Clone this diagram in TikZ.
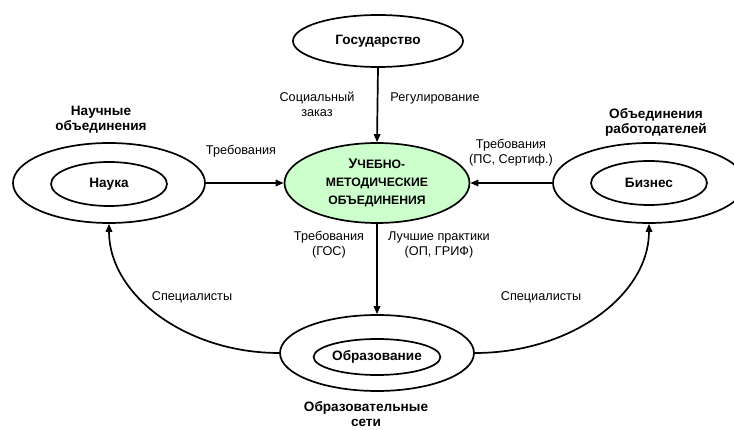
\documentclass[tikz,border=0pt]{standalone}
\usepackage{fontspec}
\setmainfont{Liberation Sans}
\usetikzlibrary{shapes.geometric,arrows.meta}
\definecolor{umefill}{HTML}{CCFFCC}
\tikzset{
  ell/.style={ellipse, draw=black, line width=1.7pt, inner sep=0pt},
  lbl/.style={font=\fontsize{12.7}{15}\selectfont, inner sep=0pt, align=center},
  blbl/.style={font=\bfseries\fontsize{13.6}{15}\selectfont, inner sep=0pt, align=center},
  btxt/.style={font=\bfseries\fontsize{13.6}{15}\selectfont},
  arr/.style={line width=1.7pt, -{Triangle[length=8pt,width=6.5pt]}},
}
\begin{document}
\begin{tikzpicture}[x=1pt,y=-1pt]
\useasboundingbox (0,0) rectangle (734,430);
% nodes
\node[ell, btxt, minimum width=170, minimum height=52] (gos) at (378,41) {Государство};
\node[ell, fill=umefill, minimum width=185, minimum height=80, align=center, font=\bfseries\fontsize{12.2}{18}\selectfont] (ume) at (377,183)
  {{\fontsize{14}{18}\selectfont У}ЧЕБНО-\\МЕТОДИЧЕСКИЕ\\ОБЪЕДИНЕНИЯ};
\node[ell, minimum width=192, minimum height=80] (nauka) at (109,183) {};
\node[ell, btxt, minimum width=116, minimum height=44] (naukain) at (109,184) {Наука};
\node[ell, minimum width=192, minimum height=80] (biz) at (649,183) {};
\node[ell, btxt, minimum width=116, minimum height=44] (bizin) at (649,183) {Бизнес};
\node[ell, minimum width=194, minimum height=76] (obr) at (377,353) {};
\node[ell, btxt, minimum width=116, minimum height=36] (obrin) at (377,357) {Образование};
% labels
\node[lbl] (soc) at (317,104) {Социальный\\заказ};
\node[lbl] (reg) at (435,98) {Регулирование};
\node[blbl] (nauch) at (101,119.5) {Научные\\объединения};
\node[lbl] (treb1) at (241,151) {Требования};
\node[lbl] (treb2) at (511,152.5) {Требования\\(ПС, Сертиф.)};
\node[blbl] (rabot) at (656,122.5) {Объединения\\работодателей};
\node[lbl] (tgos) at (329,244.5) {Требования\\(ГОС)};
\node[lbl] (best) at (439,244.5) {Лучшие практики\\(ОП, ГРИФ)};
\node[lbl] (spec1) at (192,297) {Специалисты};
\node[lbl] (spec2) at (541,297) {Специалисты};
\node[blbl] (obrset) at (366,414) {Образовательные\\сети};
% connectors
\draw[arr] (gos.south) -- (ume.north);
\draw[arr] (nauka.east) -- (ume.west);
\draw[arr] (biz.west) -- (ume.east);
\draw[arr] (ume.south) -- (obr.north);
\draw[arr] (obr.west) .. controls (186,353) and (109,295) .. (nauka.south);
\draw[arr] (obr.east) .. controls (571,353) and (649,295) .. (biz.south);
\end{tikzpicture}
\end{document}
